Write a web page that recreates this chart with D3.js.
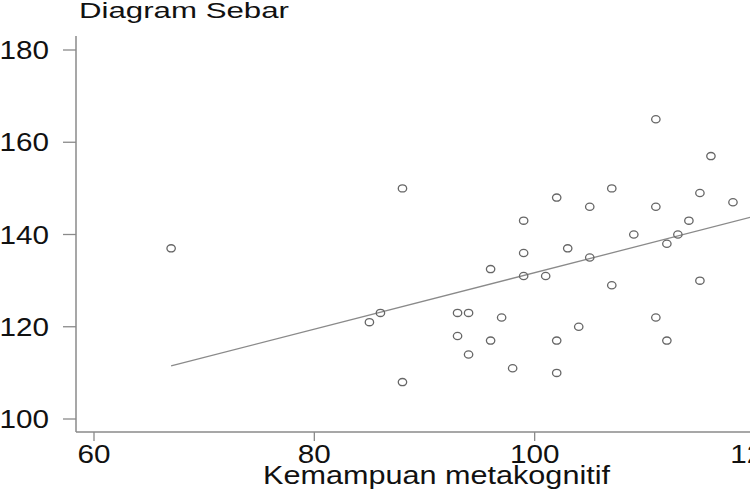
<!DOCTYPE html>
<html>
<head>
<meta charset="utf-8">
<script src="https://cdn.jsdelivr.net/npm/d3@7"></script>
<style>
  html, body { margin: 0; padding: 0; background: #fff; overflow: hidden; }
  svg { display: block; }
  text { font-family: "Liberation Sans", Arial, Helvetica, sans-serif; fill: #111; }
</style>
</head>
<body>
<svg id="chart" width="750" height="500"></svg>
<script>
// ---- data ----
const title = "Diagram Sebar";
const xLabel = "Kemampuan metakognitif";
const xTicks = [60, 80, 100, 120];
const yTicks = [100, 120, 140, 160, 180];
const xValues = [67, 85, 86, 88, 88, 93, 94, 93, 94, 96, 96, 97, 98, 99, 99, 99, 101, 102, 102, 102,
                 103, 104, 105, 105, 107, 107, 109, 111, 111, 111, 112, 112, 113, 114, 115, 115, 116, 118];
const yValues = [137, 121, 123, 150, 108, 123, 123, 118, 114, 132.5, 117, 122, 111, 143, 136, 131, 131, 148, 117, 110,
                 137, 120, 146, 135, 150, 129, 140, 165, 146, 122, 138, 117, 140, 143, 149, 130, 157, 147];
const fitX = [67, 122];
const fitY = [111.5, 145.2];

// ---- layout ----
const svg = d3.select("#chart");
const x = d3.scaleLinear().domain([60, 120]).range([94, 755]);
const y = d3.scaleLinear().domain([100, 180]).range([419, 50]);
const axisColor = "#8a8a8a";
const axisX0 = 76, axisY0 = 432;
const digitW = 16.5;

// title
svg.append("text")
  .attr("x", 79).attr("y", 18)
  .attr("font-size", 22)
  .attr("textLength", 210).attr("lengthAdjust", "spacingAndGlyphs")
  .text(title);

// y axis line
svg.append("line")
  .attr("x1", axisX0).attr("x2", axisX0)
  .attr("y1", 36).attr("y2", axisY0)
  .attr("stroke", axisColor).attr("stroke-width", 1.5);
// x axis line
svg.append("line")
  .attr("x1", axisX0).attr("x2", 760)
  .attr("y1", axisY0).attr("y2", axisY0)
  .attr("stroke", axisColor).attr("stroke-width", 1.5);

// y ticks
const yt = svg.append("g").selectAll("g").data(yTicks).join("g")
  .attr("transform", d => `translate(0,${y(d)})`);
yt.append("line").attr("x1", 63).attr("x2", axisX0)
  .attr("stroke", axisColor).attr("stroke-width", 1.3);
yt.append("text")
  .attr("x", 49).attr("y", 9)
  .attr("text-anchor", "end")
  .attr("font-size", 25)
  .attr("textLength", d => String(d).length * digitW).attr("lengthAdjust", "spacingAndGlyphs")
  .text(d => d);

// x ticks
const xt = svg.append("g").selectAll("g").data(xTicks).join("g")
  .attr("transform", d => `translate(${x(d)},0)`);
xt.append("line").attr("y1", axisY0).attr("y2", 441)
  .attr("stroke", axisColor).attr("stroke-width", 1.3);
xt.append("text")
  .attr("x", 0).attr("y", 463)
  .attr("text-anchor", "middle")
  .attr("font-size", 25)
  .attr("textLength", d => String(d).length * digitW).attr("lengthAdjust", "spacingAndGlyphs")
  .text(d => d);

// x label
svg.append("text")
  .attr("x", 263).attr("y", 484)
  .attr("font-size", 25)
  .attr("textLength", 347).attr("lengthAdjust", "spacingAndGlyphs")
  .text(xLabel);

// fit line
svg.append("line")
  .attr("x1", x(fitX[0])).attr("y1", y(fitY[0]))
  .attr("x2", x(fitX[1])).attr("y2", y(fitY[1]))
  .attr("stroke", "#8a8a8a").attr("stroke-width", 1.3);

// points
svg.append("g").selectAll("ellipse").data(xValues.map((v, i) => [v, yValues[i]])).join("ellipse")
  .attr("cx", d => x(d[0])).attr("cy", d => y(d[1]))
  .attr("rx", 4.2).attr("ry", 3.6)
  .attr("fill", "none").attr("stroke", "#666").attr("stroke-width", 1.3);
</script>
</body>
</html>
